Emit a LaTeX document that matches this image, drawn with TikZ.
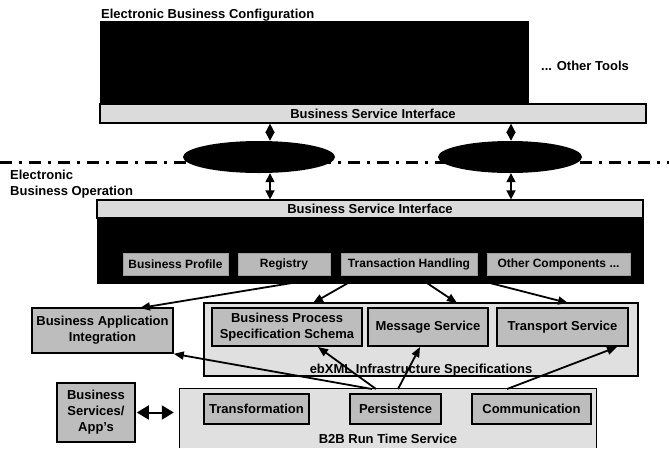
\documentclass[tikz,border=0pt]{standalone}
\usepackage{fontspec}
\setmainfont{Liberation Sans}
\usetikzlibrary{arrows.meta,shapes.geometric}
\begin{document}
\begin{tikzpicture}[x=1pt,y=-1pt,
  every node/.style={font=\fontsize{13}{16}\selectfont\bfseries, inner sep=0pt},
  blk/.style={draw=black, fill=black, line width=1pt},
  bar/.style={draw=black, fill=gray!28, line width=1.2pt},
  cont/.style={draw=black, fill=gray!24, line width=1.2pt},
  inbox/.style={draw=black, fill=gray!52, line width=1.6pt, align=center},
  subbox/.style={draw=gray!75, fill=gray!55, line width=1pt, font=\fontsize{12}{14}\selectfont\bfseries},
  lbl/.style={text=black},
  dbl/.style={{Triangle[length=9pt,width=9pt]}-{Triangle[length=9pt,width=9pt]}, line width=1.5pt},
  arr/.style={-{Triangle[length=10pt,width=8pt]}, line width=1.8pt},
  dashdot/.style={line width=3pt, dash pattern=on 12pt off 7pt on 3pt off 7pt}
]
\useasboundingbox (0,0) rectangle (669,448);

% ---- configuration layer
\node[lbl, anchor=base west] (cfgt) at (101,18) {Electronic Business Configuration};
\node[blk, minimum width=428pt, minimum height=83pt] (cfg) at (314,62.5) {};
\node[lbl, anchor=base west] (other) at (541,70) {... Other Tools};
\node[bar, minimum width=546pt, minimum height=19pt] (bsi1) at (373,113.5) {Business Service Interface};

% ---- separator and repositories
\coordinate (dl) at (0,162);
\coordinate (dr) at (669,162);
\draw[dashdot] (dl) -- (dr);
\node[ellipse, fill=black, minimum width=152pt, minimum height=32pt] (e1) at (259,157) {};
\node[ellipse, fill=black, minimum width=144pt, minimum height=32pt] (e2) at (510,157) {};
\coordinate (a1) at (270,0);
\coordinate (a2) at (511,0);

\node[lbl, anchor=north west, align=left] (ebo) at (10,170) {Electronic\\Business Operation};

% ---- operation layer
\node[blk, minimum width=546pt, minimum height=65pt] (ops) at (370,250.5) {};
\node[bar, minimum width=546pt, minimum height=18pt] (bsi2) at (370,209) {Business Service Interface};
\node[subbox, minimum width=105pt, minimum height=22pt] (sb1) at (175.5,264) {Business Profile};
\node[subbox, minimum width=92pt, minimum height=22pt] (sb2) at (284,264) {Registry};
\node[subbox, minimum width=136pt, minimum height=22pt] (sb3) at (409,264) {Transaction Handling};
\node[subbox, minimum width=143pt, minimum height=22pt] (sb4) at (558.5,264) {Other Components ...};

\draw[dbl] (bsi1.south -| a1) -- (e1.north -| a1);
\draw[dbl] (bsi1.south -| a2) -- (e2.north -| a2);
\draw[dbl] (e1.south -| a1) -- (bsi2.north -| a1);
\draw[dbl] (e2.south -| a2) -- (bsi2.north -| a2);

% ---- ebXML infrastructure
\node[inbox, minimum width=141pt, minimum height=45pt] (bai) at (102.5,330.5) {Business Application\\Integration};
\node[cont, minimum width=434pt, minimum height=73pt] (ebx) at (421,339.5) {};
\node[inbox, minimum width=150pt, minimum height=38pt] (bpss) at (287,327) {Business Process\\Specification Schema};
\node[inbox, minimum width=120pt, minimum height=38pt] (ms) at (428,327) {Message Service};
\node[inbox, minimum width=131pt, minimum height=38pt] (ts) at (562.5,327) {Transport Service};
\node[lbl, anchor=base] (ebxl) at (421,373) {ebXML Infrastructure Specifications};

% ---- B2B run time
\node[inbox, minimum width=78pt, minimum height=59pt] (bsa) at (96,412.5) {Business\\Services/\\App's};
\node[fill=gray!24, minimum width=416pt, minimum height=59pt] (b2b) at (388,418.5) {};
\draw[line width=1.2pt] (b2b.south west) |- (b2b.north east) -- (b2b.south east);
\node[inbox, minimum width=105pt, minimum height=30pt] (tr) at (256.5,409) {Transformation};
\node[inbox, minimum width=91pt, minimum height=30pt] (pe) at (395.5,409) {Persistence};
\node[inbox, minimum width=119pt, minimum height=30pt] (co) at (531.5,409) {Communication};
\node[lbl, anchor=base] (b2bl) at (388,443) {B2B Run Time Service};

\draw[{Triangle[length=12pt,width=14pt]}-{Triangle[length=12pt,width=14pt]}, line width=2pt, shorten <=1pt, shorten >=6pt] (bsa.east) -- (bsa.east -| b2b.west);

% ---- connectors
\coordinate (s1) at (292,283); \coordinate (t1) at (140,308);
\coordinate (s2) at (348,283); \coordinate (t2) at (313,303);
\coordinate (s3) at (427,283); \coordinate (t3) at (457,303);
\coordinate (s4) at (490,283); \coordinate (t4) at (568,303);
\draw[arr] (s1) -- (t1);
\draw[arr] (s2) -- (t2);
\draw[arr] (s3) -- (t3);
\draw[arr] (s4) -- (t4);

\coordinate (u5) at (372,389);
\coordinate (u6) at (376,389); \coordinate (v6) at (318,347);
\coordinate (u7) at (398,389); \coordinate (v7) at (420,347);
\coordinate (u8) at (507,389); \coordinate (v8) at (617,347);
\draw[arr] (u5) -- (bai.south east);
\draw[arr] (u6) -- (v6);
\draw[arr] (u7) -- (v7);
\draw[arr] (u8) -- (v8);
\end{tikzpicture}
\end{document}
